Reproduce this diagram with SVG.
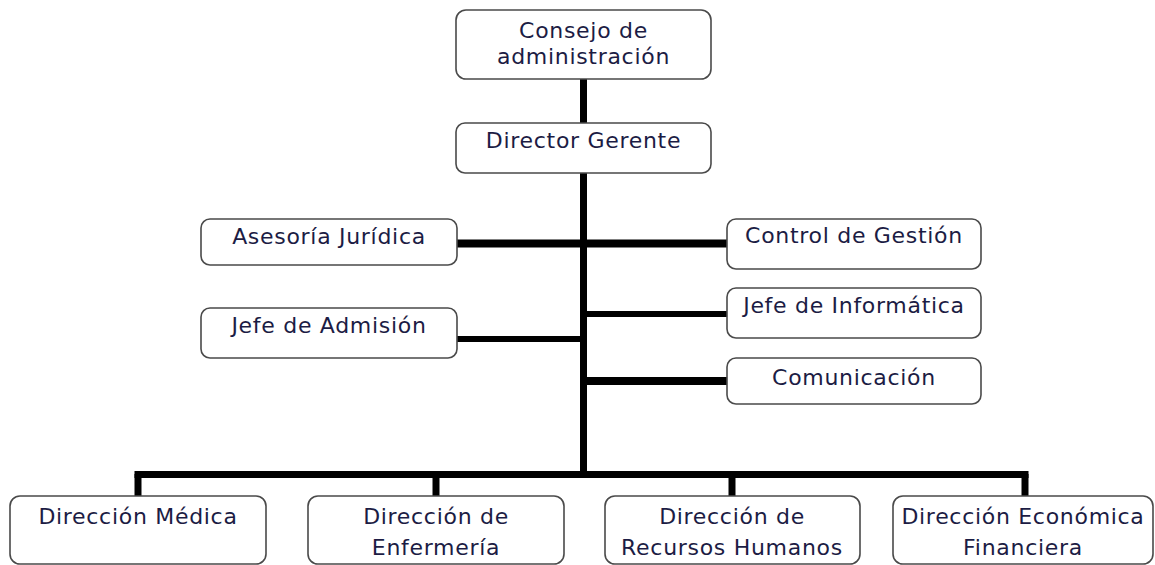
<svg xmlns="http://www.w3.org/2000/svg" width="1155" height="565" viewBox="0 0 1155 565">
<style>
.box{fill:#fff;stroke:#4a4a4a;stroke-width:1.6}
.t{font-family:"DejaVu Sans",Verdana,sans-serif;font-size:22px;letter-spacing:0.7px;fill:#1c1c44;text-anchor:middle}
.ln{stroke:#000;fill:none}
</style>
<rect width="1155" height="565" fill="#fff"/>
<g id="connectors">
<line class="ln" x1="583.5" y1="79" x2="583.5" y2="123" stroke-width="7"/>
<line class="ln" x1="583.5" y1="173" x2="583.5" y2="478" stroke-width="7"/>
<line class="ln" x1="457" y1="243.5" x2="727" y2="243.5" stroke-width="8"/>
<line class="ln" x1="583" y1="314" x2="727" y2="314" stroke-width="6"/>
<line class="ln" x1="457" y1="339" x2="584" y2="339" stroke-width="6"/>
<line class="ln" x1="583" y1="381" x2="727" y2="381" stroke-width="8"/>
<line class="ln" x1="134.5" y1="474.5" x2="1028.5" y2="474.5" stroke-width="7"/>
<line class="ln" x1="138" y1="474" x2="138" y2="497" stroke-width="7"/>
<line class="ln" x1="436" y1="474" x2="436" y2="497" stroke-width="7"/>
<line class="ln" x1="732" y1="474" x2="732" y2="497" stroke-width="7"/>
<line class="ln" x1="1025" y1="474" x2="1025" y2="497" stroke-width="7"/>
</g>
<g id="consejo"><rect class="box" x="456" y="10" width="255" height="69" rx="10"/><text class="t" x="583.5" y="38">Consejo de</text><text class="t" x="583.5" y="64">administración</text></g>
<g id="director"><rect class="box" x="456" y="123" width="255" height="50" rx="9"/><text class="t" x="583.5" y="148">Director Gerente</text></g>
<g id="asesoria"><rect class="box" x="201" y="219" width="256" height="46" rx="9"/><text class="t" x="329" y="244">Asesoría Jurídica</text></g>
<g id="control"><rect class="box" x="727" y="219" width="254" height="50" rx="9"/><text class="t" x="854" y="243">Control de Gestión</text></g>
<g id="informatica"><rect class="box" x="727" y="288" width="254" height="50" rx="9"/><text class="t" x="854" y="313">Jefe de Informática</text></g>
<g id="admision"><rect class="box" x="201" y="308" width="256" height="50" rx="9"/><text class="t" x="329" y="333">Jefe de Admisión</text></g>
<g id="comunicacion"><rect class="box" x="727" y="358" width="254" height="46" rx="9"/><text class="t" x="854" y="385">Comunicación</text></g>
<g id="medica"><rect class="box" x="10" y="496" width="256" height="68" rx="10"/><text class="t" x="138" y="524">Dirección Médica</text></g>
<g id="enfermeria"><rect class="box" x="308" y="496" width="256" height="68" rx="10"/><text class="t" x="436" y="524">Dirección de</text><text class="t" x="436" y="555">Enfermería</text></g>
<g id="rrhh"><rect class="box" x="605" y="496" width="255" height="68" rx="10"/><text class="t" x="732" y="524">Dirección de</text><text class="t" x="732" y="555">Recursos Humanos</text></g>
<g id="economica"><rect class="box" x="893" y="496" width="260" height="68" rx="10"/><text class="t" x="1023" y="524">Dirección Económica</text><text class="t" x="1023" y="555">Financiera</text></g>
</svg>
